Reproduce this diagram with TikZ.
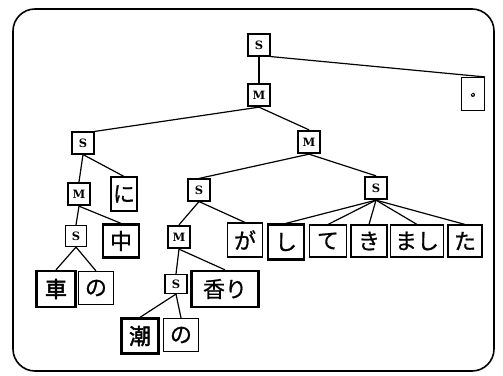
\documentclass[tikz,border=0pt]{standalone}
\usepackage{fontspec}
\newfontfamily\jp{Noto Sans CJK JP}[FakeBold=0.8]
\newfontfamily\jpb{Noto Sans CJK JP}[FakeBold=2.2]
\newfontfamily\lbl{DejaVu Serif}
\begin{document}
\begin{tikzpicture}[x=1pt,y=1pt,
  box/.style={draw, inner sep=0pt, line width=1.1pt},
  thk/.style={line width=2.3pt},
  lab/.style={box, minimum width=22pt, minimum height=22pt, font=\lbl\bfseries\fontsize{11.5}{11.5}\selectfont},
  jbox/.style={box, font=\jp\fontsize{22}{22}\selectfont},
  edge/.style={line width=1.2pt}]
\useasboundingbox (0,0) rectangle (503,-375);
\draw[line width=1.6pt, rounded corners=22pt] (13,-9) rectangle (494,-371);
% level 0-1
\node[lab] (S0) at (259,-45) {S};
\node[lab,thk] (M0) at (259,-95) {M};
\node[jbox, minimum width=23pt, minimum height=33pt, font=\jp\fontsize{13}{13}\selectfont] (dot) at (473,-94) {\makebox[0pt][l]{\hspace*{-2.6pt}\smash{\raisebox{-2pt}{。}}}};
% level 2
\node[lab] (S1) at (83,-143) {S};
\node[lab,thk] (M1) at (309,-142) {M};
% level 3
\node[lab,thk] (M2) at (79,-194) {M};
\node[jbox, minimum width=26pt, minimum height=34pt] (ni) at (124,-194) {に};
\node[lab] (S2) at (199,-190) {S};
\node[lab,thk] (S3) at (376,-188) {S};
% level 4
\node[lab, minimum width=21pt, minimum height=21pt] (S4) at (76,-236) {S};
\node[jbox,thk, minimum width=36pt, minimum height=33pt] (naka) at (121,-241) {中};
\node[lab,thk] (M3) at (179,-237) {M};
\node[jbox, minimum width=35pt, minimum height=34pt] (ga) at (245,-240) {が};
\node[jbox,thk, minimum width=36pt, minimum height=35pt] (shi) at (286,-242) {し};
\node[jbox, minimum width=37pt, minimum height=32pt] (te) at (328,-241) {て};
\node[jbox, minimum width=36pt, minimum height=32pt] (ki) at (369,-241) {き};
\node[jbox, minimum width=53pt, minimum height=32pt] (mashi) at (417,-241) {まし};
\node[jbox, minimum width=34pt, minimum height=32pt] (ta) at (465,-241) {た};
% level 5
\node[jbox,thk, minimum width=39pt, minimum height=36pt] (kuruma) at (56,-289) {\jpb 車};
\node[jbox, minimum width=35pt, minimum height=33pt] (no1) at (96,-288) {の};
\node[lab, minimum width=22pt, minimum height=19pt] (S5) at (176,-284) {S};
\node[jbox,thk, minimum width=67pt, minimum height=36pt] (kaori) at (225,-289) {香り};
% level 6
\node[jbox,thk, minimum width=37pt, minimum height=35pt] (shio) at (140,-336) {\jpb 潮};
\node[jbox, minimum width=35pt, minimum height=33pt] (no2) at (181,-335) {の};
% edges
\draw[edge] (S0.south) -- (M0.north);
\draw[edge] (S0.south east) -- (dot.north east);
\draw[edge] (M0.south) -- (S1.north east);
\draw[edge] (M0.south) -- (M1.north);
\draw[edge] (S1.south) -- (M2.north);
\draw[edge] (S1.south) -- (ni.north);
\draw[edge] (M1.south) -- (S2.north);
\draw[edge] (M1.south) -- (S3.north);
\draw[edge] (M2.south) -- (S4.north);
\draw[edge] (M2.south) -- (naka.north);
\draw[edge] (S2.south) -- (M3.north);
\draw[edge] (S2.south) -- (ga.north);
\draw[edge] (S3.south) -- (shi.north);
\draw[edge] (S3.south) -- (te.north);
\draw[edge] (S3.south) -- (ki.north);
\draw[edge] (S3.south) -- (mashi.north);
\draw[edge] (S3.south) -- (ta.north);
\draw[edge] (S4.south) -- (kuruma.north);
\draw[edge] (S4.south) -- (no1.north);
\draw[edge] (M3.south) -- (S5.north);
\draw[edge] (M3.south) -- (kaori.north);
\draw[edge] (S5.south) -- (shio.north);
\draw[edge] (S5.south) -- (no2.north);
\end{tikzpicture}
\end{document}
